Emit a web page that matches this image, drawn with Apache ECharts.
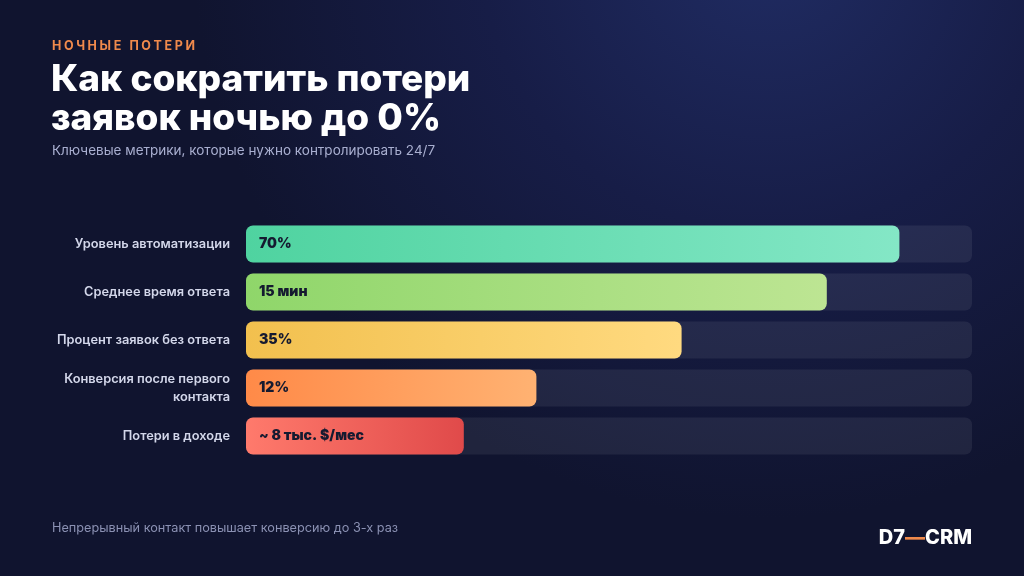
<!DOCTYPE html>
<html><head><meta charset="utf-8">
<script src="https://cdn.jsdelivr.net/npm/echarts@6/dist/echarts.min.js"></script>
<style>html,body{margin:0;padding:0;background:#10142f;}#c{width:1024px;height:576px;}</style>
</head><body><div id="c"></div>
<script>
const categories = ['Уровень автоматизации','Среднее время ответа','Процент заявок без ответа','Конверсия после первого\nконтакта','Потери в доходе'];
const barLengths = [90, 80, 60, 40, 30];
const valueLabels = ['70%','15 мин','35%','12%','~ 8 тыс. $/мес'];
const gradStart = ['#4fd3a0','#8fd66a','#f2c04e','#ff8a48','#ff7a6c'];
const gradEnd = ['#84e7c6','#bde593','#ffda80','#ffb272','#e04a4a'];
const kicker = 'НОЧНЫЕ ПОТЕРИ';

const chart = echarts.init(document.getElementById('c'));
const font = 'Inter, "Noto Sans", sans-serif';
chart.setOption({
  backgroundColor: {
    type: 'radial', x: 0.75, y: -0.1, r: 1.0,
    colorStops: [{offset:0,color:'#202c63'},{offset:0.5,color:'#171d47'},{offset:1,color:'#10142f'}]
  },
  grid: {left: 246, right: 52, top: 220, height: 240, containLabel: false},
  xAxis: {type:'value', min:0, max:100, show:false},
  yAxis: {
    type:'category', data: categories, inverse: true,
    axisLine:{show:false}, axisTick:{show:false},
    axisLabel:{color:'#d3d7ea', fontFamily: font, fontWeight: 600, fontSize: 12.8, margin: 16, align:'right', lineHeight: 18}
  },
  series: [{
    type:'bar', barWidth: 37,
    showBackground: true,
    backgroundStyle: {color:'rgba(255,255,255,0.07)', borderRadius: 7},
    data: barLengths.map((v,i)=>({
      value: v,
      itemStyle: {
        borderRadius: 7,
        color: {type:'linear', x:0, y:0, x2:1, y2:0, colorStops:[{offset:0,color:gradStart[i]},{offset:1,color:gradEnd[i]}]}
      },
      label: {formatter: valueLabels[i]}
    })),
    label: {show:true, position:'insideLeft', distance: 13, color:'#151a30', fontFamily: font, fontWeight: 900, fontSize: 14}
  }],
  graphic: [
    {type:'text', left: 52, top: 40, style:{
      text: kicker.split('').map(ch => '{l|' + ch + '}').join(''),
      rich: {l: {fill:'#f08a4c', font:'700 12.5px ' + font, padding:[0,1.3]}}
    }},
    {type:'text', left: 51, top: 60, style:{text:'Как сократить потери\nзаявок ночью до 0%', fill:'#ffffff', font:'800 37px ' + font, lineHeight: 39}},
    {type:'text', left: 52, top: 144, style:{text:'Ключевые метрики, которые нужно контролировать 24/7', fill:'#a9afd0', font:'400 13.5px ' + font}},
    {type:'text', left: 52, top: 522, style:{text:'Непрерывный контакт повышает конверсию до 3-х раз', fill:'#8b91b3', font:'400 12.7px ' + font}},
    {type:'text', right: 52, top: 528, style:{
      text:'{a|D7}{b|—}{a|CRM}',
      rich:{a:{fill:'#ffffff', font:'800 20px ' + font}, b:{fill:'#f08a4c', font:'800 20px ' + font}}
    }}
  ]
});
</script></body></html>
